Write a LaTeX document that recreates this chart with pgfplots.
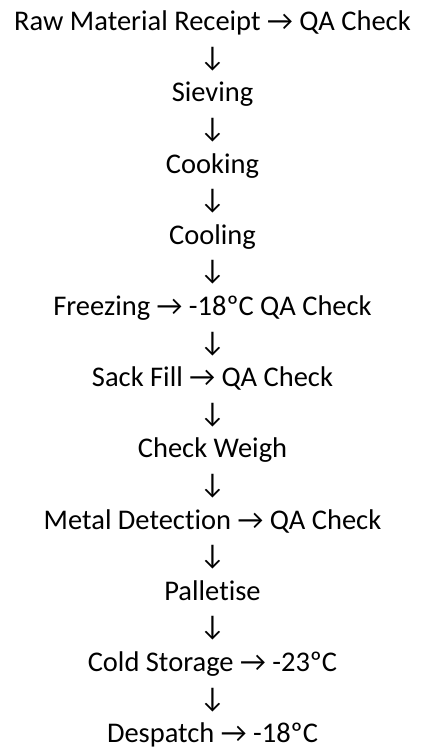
\documentclass[border=0pt]{standalone}
\usepackage{fontspec}
\setmainfont[Ligatures={NoCommon}]{Carlito}
\usepackage{pgfplots}
\pgfplotsset{compat=1.18}
\begin{document}
\begin{tikzpicture}
\begin{axis}[
  width=425bp, height=751bp, scale only axis,
  xmin=0, xmax=425, ymin=0, ymax=751,
  hide axis, clip=false,
]
\path (axis cs:0,0) rectangle (axis cs:425,751);
\tikzset{lbl/.style={inner sep=0pt, anchor=base, font=\fontsize{28.5bp}{32bp}\selectfont}}
\node[lbl] at (axis cs:212.5,720.3) {Raw Material Receipt → QA Check};
\node[lbl] at (axis cs:212.5,684.7) {↓};
\node[lbl] at (axis cs:212.5,649.1) {Sieving};
\node[lbl] at (axis cs:212.5,613.5) {↓};
\node[lbl] at (axis cs:212.5,577.9) {Cooking};
\node[lbl] at (axis cs:212.5,542.3) {↓};
\node[lbl] at (axis cs:212.5,506.7) {Cooling};
\node[lbl] at (axis cs:212.5,471.1) {↓};
\node[lbl] at (axis cs:212.5,435.5) {Freezing → -18ºC QA Check};
\node[lbl] at (axis cs:212.5,399.9) {↓};
\node[lbl] at (axis cs:212.5,364.3) {Sack Fill → QA Check};
\node[lbl] at (axis cs:212.5,328.7) {↓};
\node[lbl] at (axis cs:212.5,293.1) {Check Weigh};
\node[lbl] at (axis cs:212.5,257.5) {↓};
\node[lbl] at (axis cs:212.5,221.9) {Metal Detection → QA Check};
\node[lbl] at (axis cs:212.5,186.3) {↓};
\node[lbl] at (axis cs:212.5,150.7) {Palletise};
\node[lbl] at (axis cs:212.5,115.1) {↓};
\node[lbl] at (axis cs:212.5,79.5) {Cold Storage → -23ºC};
\node[lbl] at (axis cs:212.5,43.9) {↓};
\node[lbl] at (axis cs:212.5,8.3) {Despatch → -18ºC};
\end{axis}
\end{tikzpicture}
\end{document}
